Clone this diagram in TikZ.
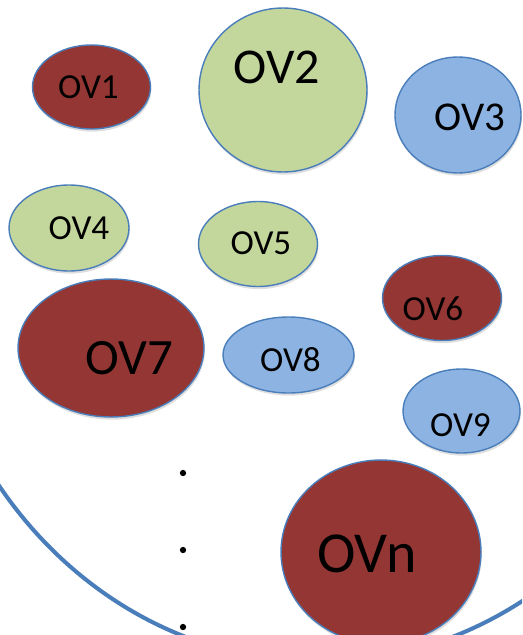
\documentclass[tikz,border=0pt]{standalone}
\usepackage{fontspec}
\setmainfont{Carlito}
\usetikzlibrary{shapes.geometric,shadows}
\definecolor{ovred}{HTML}{943634}
\definecolor{ovgreen}{HTML}{C3D69B}
\definecolor{ovblue}{HTML}{8DB3E2}
\definecolor{ovline}{HTML}{4A7EBB}
\begin{document}
\begin{tikzpicture}[x=0.02cm,y=-0.02cm,
  ov/.style={ellipse,draw=ovline,line width=0.8pt,inner sep=0pt,
    drop shadow={opacity=0.25,shadow xshift=0.5pt,shadow yshift=-1.5pt}},
  ovtxt/.style={inner sep=0pt,font=\fontsize{#1}{#1}\selectfont}]
  \clip (0,0) rectangle (522,635);
  \coordinate (C) at (319,230);
  \draw[ovline,line width=2.3pt] (C) ellipse [x radius=7.94cm,y radius=8.64cm];
  \node[ov,fill=ovred,minimum width=2.36cm,minimum height=1.68cm] (ov1) at (91.5,87) {};
  \node[ov,fill=ovgreen,minimum width=3.36cm,minimum height=3.28cm] (ov2) at (283,90) {};
  \node[ov,fill=ovblue,minimum width=2.52cm,minimum height=2.32cm] (ov3) at (458,115) {};
  \node[ov,fill=ovgreen,minimum width=2.40cm,minimum height=1.72cm] (ov4) at (69,228) {};
  \node[ov,fill=ovgreen,minimum width=2.38cm,minimum height=1.70cm] (ov5) at (258,244) {};
  \node[ov,fill=ovred,minimum width=2.38cm,minimum height=1.70cm] (ov6) at (442,298) {};
  \node[ov,fill=ovred,minimum width=3.72cm,minimum height=2.76cm] (ov7) at (111,348) {};
  \node[ov,fill=ovblue,minimum width=2.62cm,minimum height=1.52cm] (ov8) at (288.5,355) {};
  \node[ov,fill=ovblue,minimum width=2.34cm,minimum height=1.68cm] (ov9) at (461.5,411) {};
  \node[ov,fill=ovred,minimum width=4.00cm,minimum height=3.68cm] (ovn) at (381,552) {};
  \node[ovtxt=20] (t1) at ([shift={(-3,0)}]ov1) {OV1};
  \node[ovtxt=28.5] (t2) at ([shift={(-6,-23)}]ov2) {OV2};
  \node[ovtxt=23.3] (t3) at ([shift={(12,2)}]ov3) {OV3};
  \node[ovtxt=20] (t4) at ([shift={(10,0)}]ov4) {OV4};
  \node[ovtxt=20] (t5) at ([shift={(3,-1)}]ov5) {OV5};
  \node[ovtxt=20] (t6) at ([shift={(-9,11)}]ov6) {OV6};
  \node[ovtxt=29] (t7) at ([shift={(18,10)}]ov7) {OV7};
  \node[ovtxt=20] (t8) at ([shift={(2,5)}]ov8) {OV8};
  \node[ovtxt=20] (t9) at ([shift={(-1,14)}]ov9) {OV9};
  \node[ovtxt=33] (tn) at ([shift={(-14,2)}]ovn) {OVn};
  \fill (183,473) circle (1.8pt);
  \fill (183,550) circle (1.8pt);
  \fill (183,627) circle (1.8pt);
\end{tikzpicture}
\end{document}
